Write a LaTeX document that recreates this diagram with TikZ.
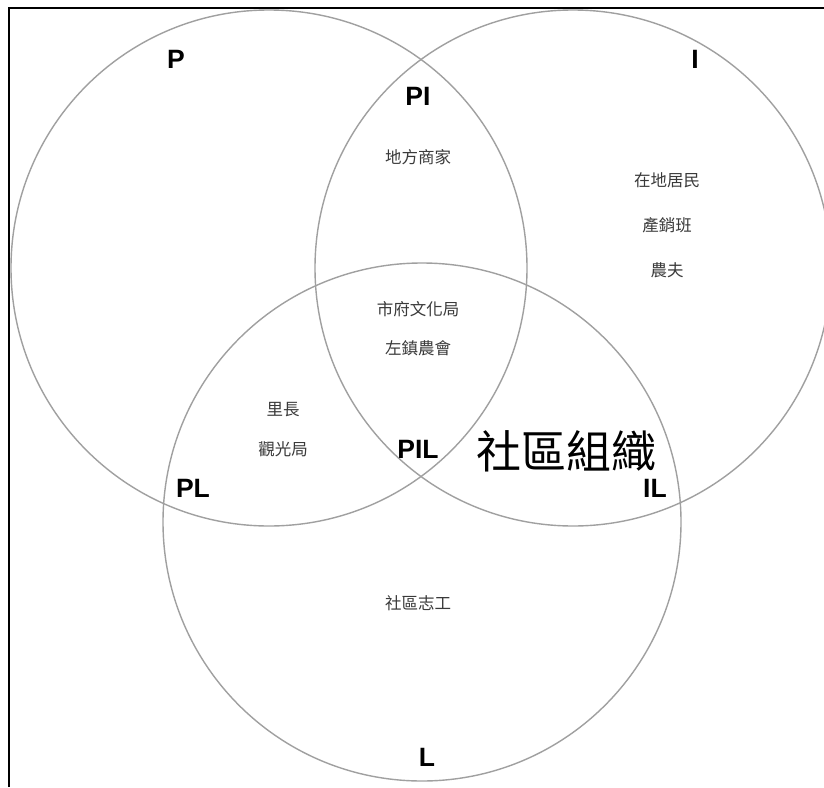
\documentclass[tikz,border=0pt]{standalone}
\usepackage{fontspec}
\setmainfont{Liberation Sans}
\newfontfamily\cjk{Noto Sans CJK TC}
\definecolor{ringgray}{HTML}{A0A0A0}
\definecolor{txtgray}{HTML}{3A3A3A}
\tikzset{
  ring/.style={circle, draw=ringgray, line width=1.4pt, inner sep=0pt, minimum size=#1},
  setlabel/.style={font=\fontsize{26.5}{26.5}\selectfont\bfseries, text=black, inner sep=0pt},
  member/.style={font=\cjk\fontsize{16.5}{16.5}\selectfont, text=txtgray, inner sep=0pt},
  bigmember/.style={font=\cjk\fontsize{45}{45}\selectfont, text=black, inner sep=0pt},
  frameline/.style={draw=black, line width=2pt}
}
\begin{document}
\begin{tikzpicture}[x=1pt,y=-1pt]
\useasboundingbox (0,0) rectangle (824,787);
\fill[white] (0,0) rectangle (824,787);
% frame (left and top edges)
\coordinate (fBL) at (9,787);
\coordinate (fTL) at (9,8);
\coordinate (fTR) at (824,8);
\draw[frameline] (fBL) -- (fTL) -- (fTR);
% circles
\node[ring=516pt] (cP) at (269,268) {};
\node[ring=516pt] (cI) at (573,268) {};
\node[ring=518pt] (cL) at (422,522) {};
% set labels
\node[setlabel] (lP) at (176,59) {P};
\node[setlabel] (lPI) at (418,96) {PI};
\node[setlabel] (lI) at (695,59) {I};
\node[setlabel] (lPL) at (193,488) {PL};
\node[setlabel] (lPIL) at (418,449) {PIL};
\node[setlabel] (lIL) at (655,488) {IL};
\node[setlabel] (lL) at (427,757) {L};
% members
\node[member] (m1) at (418,157) {地方商家};
\node[member] (m2) at (667,180) {在地居民};
\node[member] (m3) at (667,225) {產銷班};
\node[member] (m4) at (667,270) {農夫};
\node[member] (m5) at (418,309) {市府文化局};
\node[member] (m6) at (418,348) {左鎮農會};
\node[member] (m7) at (283,410) {里長};
\node[member] (m8) at (283,449) {觀光局};
\node[member] (m9) at (418,603) {社區志工};
\node[bigmember] (m10) at (566,451) {社區組織};
\end{tikzpicture}
\end{document}
